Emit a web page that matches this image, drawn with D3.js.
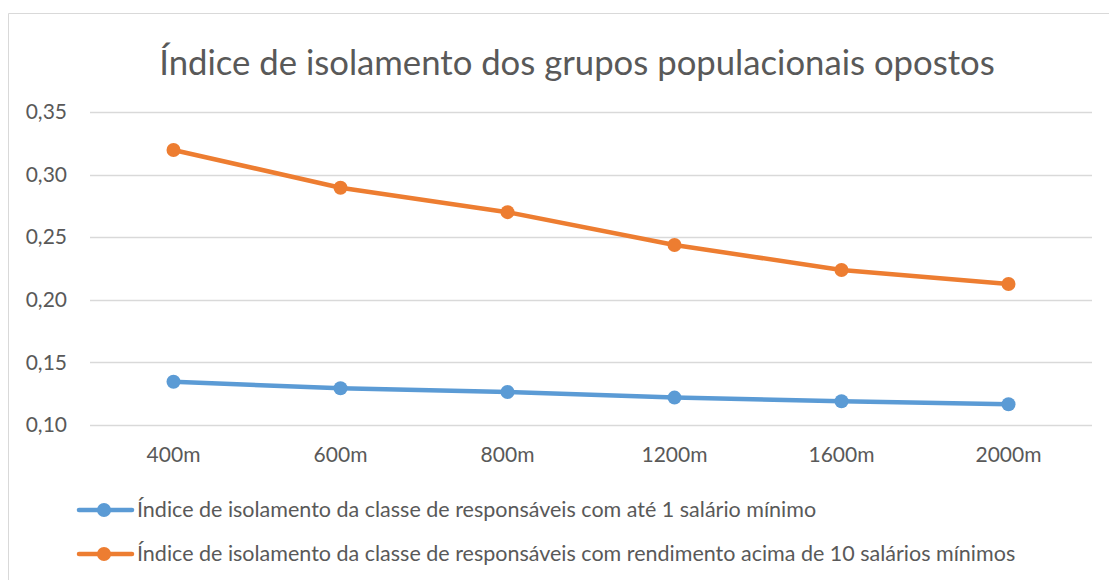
<!DOCTYPE html>
<html><head><meta charset="utf-8">
<script src="https://cdn.jsdelivr.net/npm/d3@7"></script>
<style>body{margin:0;background:#fff;}svg{display:block;font-family:Lato,"Open Sans",sans-serif;}</style>
</head><body><svg id="c" width="1109" height="580"></svg>
<script>
const categories = ["400m","600m","800m","1200m","1600m","2000m"];
const seriesLow = [0.1346,0.1293,0.1264,0.1219,0.1190,0.1166];
const seriesHigh = [0.3197,0.2895,0.2700,0.2438,0.2238,0.2126];
const yTicks = [0.10,0.15,0.20,0.25,0.30,0.35];
const seriesNames = ["Índice de isolamento da classe de responsáveis com até 1 salário mínimo",
  "Índice de isolamento da classe de responsáveis com rendimento acima de 10 salários mínimos"];
const colors = ["#5B9BD5","#ED7D31"];
const title = "Índice de isolamento dos grupos populacionais opostos";

const svg = d3.select("#c");
const txt = "#595959";
const ff = "Lato,'Open Sans',sans-serif";
// chart frame
svg.append("path").attr("d","M8.5,580 L8.5,13.5 L1109,13.5").attr("fill","none").attr("stroke","#d9d9d9").attr("stroke-width",1);

svg.append("text").attr("x",577).attr("y",75).attr("text-anchor","middle")
  .attr("fill",txt).attr("font-size",34.7).text(title);

const x = d3.scaleBand().domain(categories).range([90,1092]);
const y = d3.scaleLinear().domain([0.10,0.35]).range([425,112]);

// gridlines
svg.append("g").selectAll("line").data(yTicks).join("line")
  .attr("x1",90).attr("x2",1092).attr("y1",d=>Math.round(y(d))+0.5).attr("y2",d=>Math.round(y(d))+0.5)
  .attr("stroke","#d9d9d9").attr("stroke-width",1.3);

const fmt = d=>d3.format(".2f")(d).replace(".",",");
const yAxis = svg.append("g").attr("transform","translate(90,0)")
  .call(d3.axisLeft(y).tickValues(yTicks).tickFormat(fmt).tickSize(0).tickPadding(23));
yAxis.select(".domain").remove();
yAxis.selectAll("text").attr("fill",txt).attr("font-size",21).attr("font-family",ff);

const xAxis = svg.append("g").attr("transform","translate(0,425)")
  .call(d3.axisBottom(x).tickSize(0).tickPadding(22));
xAxis.select(".domain").remove();
xAxis.selectAll("text").attr("fill",txt).attr("font-size",21).attr("font-family",ff);

const cx = d=>x(d)+x.bandwidth()/2;
[seriesLow,seriesHigh].forEach((s,i)=>{
  const pts = categories.map((c,j)=>[cx(c),y(s[j])]);
  svg.append("path").attr("d",d3.line()(pts)).attr("fill","none")
    .attr("stroke",colors[i]).attr("stroke-width",4.5).attr("stroke-linejoin","round").attr("stroke-linecap","round");
  svg.append("g").selectAll("circle").data(pts).join("circle")
    .attr("cx",d=>d[0]).attr("cy",d=>d[1]).attr("r",7).attr("fill",colors[i]);
});

// legend
const ly = [510,554];
seriesNames.forEach((n,i)=>{
  const g = svg.append("g");
  g.append("line").attr("x1",79).attr("x2",132).attr("y1",ly[i]).attr("y2",ly[i])
    .attr("stroke",colors[i]).attr("stroke-width",4.5).attr("stroke-linecap","round");
  g.append("circle").attr("cx",104).attr("cy",ly[i]).attr("r",7).attr("fill",colors[i]);
  g.append("text").attr("x",137).attr("y",ly[i]+7).attr("fill",txt).attr("font-size",21.5).text(n);
});
</script></body></html>
